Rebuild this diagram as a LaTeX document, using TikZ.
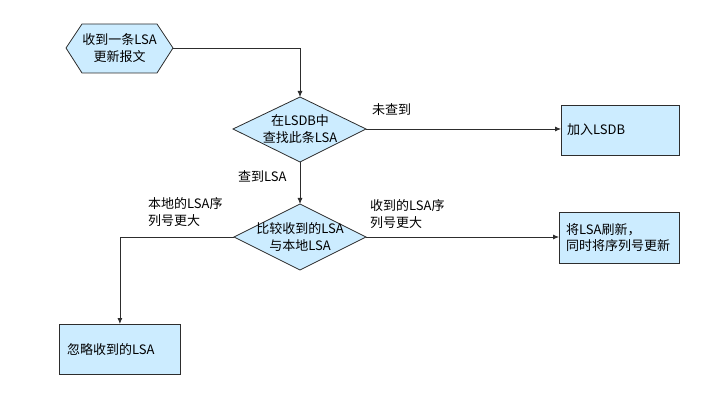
\documentclass[tikz,border=0pt]{standalone}
\usepackage{fontspec}
\setmainfont{Noto Sans CJK SC}
\usetikzlibrary{arrows.meta}
\definecolor{fillblue}{RGB}{204,236,255}
\definecolor{edgecol}{RGB}{45,45,45}
\begin{document}
\begin{tikzpicture}[x=1pt,y=-1pt,
  shapeline/.style={draw=edgecol, line width=0.8pt, fill=fillblue},
  conn/.style={draw=edgecol, line width=0.8pt},
  arr/.style={conn, -{Latex[length=6pt,width=5pt]}},
  txt/.style={font=\fontsize{13}{16.5}\selectfont, align=center, inner sep=0pt},
  lab/.style={font=\fontsize{13}{16.5}\selectfont, align=left, inner sep=0pt, anchor=west},
  boxstyle/.style={shapeline, rectangle, inner sep=0pt, anchor=north west}]
\useasboundingbox (0,0) rectangle (706,411);
% hexagon
\coordinate (hl) at (66,48);
\coordinate (hr) at (173,48);
\draw[shapeline] (hl) -- (82,24) -- (157,24) -- (hr) -- (157,73) -- (82,73) -- cycle;
\node[txt] (start) at (119.5,48) {收到一条LSA\\更新报文};
% diamond 1
\coordinate (d1l) at (233,129);
\coordinate (d1t) at (300,97);
\coordinate (d1r) at (366,129);
\coordinate (d1b) at (300,162);
\draw[shapeline] (d1l) -- (d1t) -- (d1r) -- (d1b) -- cycle;
\node[txt] (find) at (300,129) {在LSDB中\\查找此条LSA};
% diamond 2
\coordinate (d2l) at (234,237);
\coordinate (d2t) at (300,204);
\coordinate (d2r) at (366,237);
\coordinate (d2b) at (300,270);
\draw[shapeline] (d2l) -- (d2t) -- (d2r) -- (d2b) -- cycle;
\node[txt] (cmp) at (300,237) {比较收到的LSA\\与本地LSA};
% boxes
\node[boxstyle, minimum width=118pt, minimum height=50pt] (add) at (561,105) {};
\node[lab] (addt) at (567,130) {加入LSDB};
\node[boxstyle, minimum width=120pt, minimum height=51pt] (upd) at (559,212) {};
\node[lab] (updt) at (566,237.5) {将LSA刷新，\\同时将序列号更新};
\node[boxstyle, minimum width=121pt, minimum height=50pt] (ign) at (59,324) {};
\node[lab] (ignt) at (67,350) {忽略收到的LSA};
% connectors
\draw[arr] (hr) -| (d1t);
\draw[arr] (d1r) -- (d1r -| add.west);
\draw[arr] (d1b) -- (d2t);
\draw[arr] (d2r) -- (d2r -| upd.west);
\draw[arr] (d2l) -| (ign.north);
% labels
\node[lab] (l1) at (372,110) {未查到};
\node[lab] (l2) at (238,176) {查到LSA};
\node[lab] (l3) at (148,212) {本地的LSA序\\列号更大};
\node[lab] (l4) at (370,214) {收到的LSA序\\列号更大};
\end{tikzpicture}
\end{document}
